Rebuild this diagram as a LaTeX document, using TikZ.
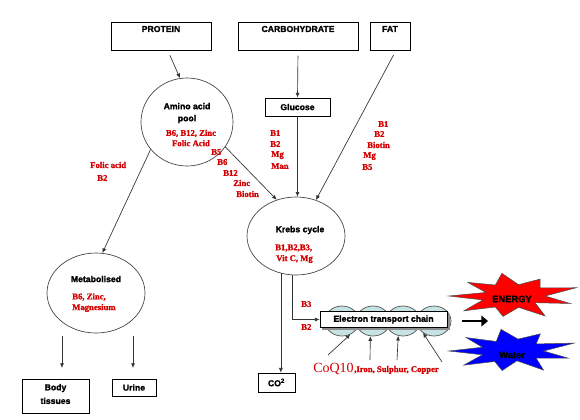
\documentclass[tikz,border=0pt]{standalone}
\usepackage{fontspec}
\setmainfont{Liberation Serif}[BoldFeatures={FakeBold=1.2}]
\newfontfamily\arialf{Liberation Sans}[BoldFeatures={FakeBold=1.5}]
\usetikzlibrary{shapes.geometric,arrows.meta}
\definecolor{rtx}{RGB}{210,0,0}
\definecolor{etcfill}{RGB}{198,226,226}
\tikzset{
  line/.style={draw=black!80, line width=0.5pt},
  arr/.style={line, -{Latex[length=3.5pt,width=3pt]}},
  bigarrow/.style={draw=black, line width=2.2pt, -{Triangle[length=5pt,width=8pt]}},
  box/.style={draw=black, line width=0.6pt, fill=white, rectangle, inner sep=0pt},
  blk/.style={font=\arialf\bfseries\fontsize{6.5}{9}\selectfont, inner sep=0pt, align=center},
  rtxt/.style={font=\bfseries\fontsize{6.5}{7.8}\selectfont, text=rtx, inner sep=0pt, anchor=west},
  ell/.style={ellipse, draw=black!75, line width=0.5pt, fill=white, inner sep=0pt},
  etccirc/.style={ellipse, draw=black!70, fill=etcfill, line width=0.5pt, inner sep=0pt, minimum width=25.5pt, minimum height=22.5pt},
  starshape/.style={draw=black!70, line width=0.4pt},
}
\begin{document}
\begin{tikzpicture}[x=0.75pt,y=-0.75pt]
\fill[white] (0,0) rectangle (580,419);
\useasboundingbox (0,0) rectangle (580,419);

% top boxes
\node[box, minimum width=75pt, minimum height=21pt] (protein) at (161,36) {};
\node[blk] (proteinT) at (161,29) {PROTEIN};
\node[box, minimum width=90pt, minimum height=21pt] (carb) at (298,36) {};
\node[blk] (carbT) at (298,29) {CARBOHYDRATE};
\node[box, minimum width=30pt, minimum height=21pt] (fat) at (390,36) {};
\node[blk] (fatT) at (390,29) {FAT};

% glucose
\node[box, blk, minimum width=48.75pt, minimum height=13.5pt] (glucose) at (297.5,107) {Glucose};

% amino acid pool
\node[ell, minimum width=69pt, minimum height=66pt] (amino) at (187,122) {};
\node[blk] (aminoT) at (187,113) {Amino acid\\pool};
\node[rtxt, anchor=center, align=center] (aminoR) at (191,138) {B6, B12, Zinc\\Folic Acid};

% krebs
\node[ell, minimum width=73.5pt, minimum height=58.5pt] (krebs) at (296,236) {};
\node[blk] (krebsT) at (300,230) {Krebs cycle};
\node[rtxt] (krebsR1) at (275,248) {B1,B2,B3,};
\node[rtxt] (krebsR2) at (276,259) {Vit C, Mg};

% metabolised
\node[ell, minimum width=73.5pt, minimum height=60pt] (metab) at (96,293) {};
\node[blk] (metabT) at (96,279) {Metabolised};
\node[rtxt] (metabR1) at (72,297) {B6, Zinc,};
\node[rtxt] (metabR2) at (72,308) {Magnesium};

% bottom boxes
\node[box, minimum width=50.25pt, minimum height=25.5pt] (body) at (55.5,396) {};
\node[blk, align=center] (bodyT) at (55.5,394) {Body\\[1.2pt]tissues};
\node[box, blk, minimum width=33pt, minimum height=12.75pt] (urine) at (134,387.5) {Urine};
\node[box, blk, minimum width=27.75pt, minimum height=14.25pt] (co2) at (276.5,382.5) {CO\textsuperscript{2}};

% red vitamin lists
\foreach \t/\x/\y [count=\n] in {B5/211/152, B6/217/162, B12/223/173, Zinc/233/183, Biotin/236/194}
  \node[rtxt] (al\n) at (\x,\y) {\t};
\foreach \t/\x/\y [count=\n] in {B1/270/133, B2/270/144, Mg/271/155, Man/271/166}
  \node[rtxt] (gl\n) at (\x,\y) {\t};
\foreach \t/\x/\y [count=\n] in {B1/378/124, B2/374/134, Biotin/367/145, Mg/363/156, B5/362/167}
  \node[rtxt] (fl\n) at (\x,\y) {\t};
\node[rtxt] (folic) at (90,165) {Folic acid};
\node[rtxt] (folicB) at (97,178) {B2};

% electron transport chain
\foreach \i/\x in {1/342,2/373,3/403,4/434}
  \node[etccirc] (c\i) at (\x,321) {};
\fill[black!45] (322,314) rectangle (449.5,329.5);
\node[box, blk, minimum width=95.25pt, minimum height=12pt] (etc) at (383.5,319.5) {Electron transport chain};
\node[rtxt] (etcB3) at (301,304) {B3};
\node[rtxt] (etcB2) at (301,327) {B2};

\node[font=\fontsize{10.5}{12}\selectfont, text=rtx, anchor=base west, inner sep=0pt] (coq) at (313,372) {CoQ10};
\node[rtxt, anchor=base west] (minerals) at (coq.base east) {,Iron, Sulphur, Copper};

% stars
\draw[starshape, fill=red]
  ({513-64},296)
  \foreach \k [evaluate=\k as \r using {{1,.45,.92,.55,1,.5,.85,.55,1.05,.5,.95,.45,1,.5,.9,.55,1,.5}[\k]}] in {1,...,17}
  { -- ({513+64*\r*cos(180+20*\k)},{296+23*\r*sin(180+20*\k)}) } -- cycle;
\draw[starshape, fill=blue]
  ({512-63},351)
  \foreach \k [evaluate=\k as \r using {{1,.5,.95,.5,1,.55,.9,.5,1.05,.5,.95,.5,1,.45,.9,.55,1,.5}[\k]}] in {1,...,17}
  { -- ({512+63*\r*cos(180+20*\k)},{351+22*\r*sin(180+20*\k)}) } -- cycle;
\node[blk, font=\arialf\bfseries\fontsize{7}{8}\selectfont] (energy) at (512,299) {ENERGY};
\node[blk, font=\arialf\bfseries\fontsize{7}{8}\selectfont] (water) at (512,355) {Water};

% connectors
\draw[arr, shorten <=4pt] ([xshift=5pt]protein.south) -- (amino.99);
\draw[arr, shorten <=4pt] (carb.south) -- (glucose.north);
\draw[arr, shorten <=4pt] ([xshift=4.5pt]fat.south) -- (krebs.61);
\draw[arr] (glucose.south) -- (glucose.south |- krebs.north);
\draw[arr] (amino.-33) -- (krebs.118);
\draw[arr] (amino.-143) -- (metab.81);
\draw[arr] (krebs.-112) -- (krebs.-112 |- co2.north);
\draw[arr] (krebs.-95) |- (etc.west);

\coordinate (m1) at (62,336);
\coordinate (m2) at (133,336);
\draw[arr, shorten >=8pt] (m1) -- (m1 |- body.north);
\draw[arr, shorten >=8pt] (m2) -- (m2 |- urine.north);

\coordinate (q1) at (328,355);
\coordinate (q2) at (370,360);
\coordinate (q3) at (397,360);
\coordinate (q4) at (442,362);
\draw[arr] (q1) -- (c1.-58);
\draw[arr] (q2) -- (c2.-100);
\draw[arr] (q3) -- (c3.-108);
\draw[arr] (q4) -- (c4.-133);

\coordinate (ta) at (462,321);
\draw[bigarrow] (ta) -- ++(26,0);
\end{tikzpicture}
\end{document}
